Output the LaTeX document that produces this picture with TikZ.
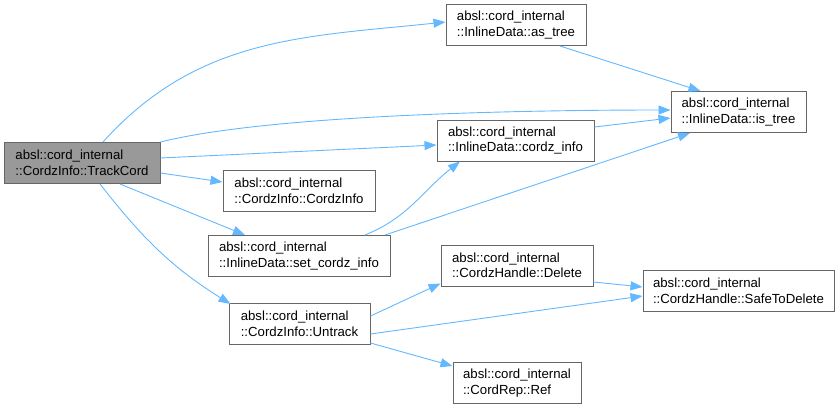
\documentclass[tikz,border=0pt]{standalone}
\usepackage{fontspec}
\setmainfont{Liberation Sans}
\usepackage{tikz}
\usetikzlibrary{arrows.meta, positioning}
\definecolor{callblue}{RGB}{99, 184, 255}
\definecolor{boxgray}{RGB}{102, 102, 102}
\definecolor{rootgray}{RGB}{153, 153, 153}

\begin{document}
\begin{tikzpicture}[x=1pt, y=-1pt,
    font=\fontsize{13.2}{15.5}\selectfont,
    >={Triangle[length=12pt, width=9pt]},
    fn/.style={draw=boxgray, line width=1pt, fill=white, align=left,
      minimum height=41pt, minimum width=#1, inner xsep=4pt, inner ysep=2pt},
    root/.style={fn=#1, fill=rootgray},
    call/.style={->, callblue, line width=0.9pt}]
  \useasboundingbox (0,0) rectangle (840,405);
  % functions
  \node[root=156pt] (tc) at (82,163) {absl::cord\_internal\\::CordzInfo::TrackCord};
  \node[fn=140pt] (at) at (516,25) {absl::cord\_internal\\::InlineData::as\_tree};
  \node[fn=135pt] (it) at (738.5,112) {absl::cord\_internal\\::InlineData::is\_tree};
  \node[fn=157pt] (cz) at (515.5,140.5) {absl::cord\_internal\\::InlineData::cordz\_info};
  \node[fn=152pt] (ci) at (299,191) {absl::cord\_internal\\::CordzInfo::CordzInfo};
  \node[fn=182pt] (sc) at (299,256) {absl::cord\_internal\\::InlineData::set\_cordz\_info};
  \node[fn=152pt] (dl) at (517,265.5) {absl::cord\_internal\\::CordzHandle::Delete};
  \node[fn=191pt] (sd) at (738.5,291) {absl::cord\_internal\\::CordzHandle::SafeToDelete};
  \node[fn=141pt] (un) at (299.5,324) {absl::cord\_internal\\::CordzInfo::Untrack};
  \node[fn=128pt] (rf) at (517,383) {absl::cord\_internal\\::CordRep::Ref};
  % calls from TrackCord
  \draw[call] ([xshift=21pt]tc.north) to[out=48, in=186] ([yshift=3pt]at.west);
  \draw[call] (tc.north east) to[out=14, in=180, looseness=0.6] ([yshift=2pt]it.west);
  \draw[call] ([yshift=5pt]tc.east) -- ([yshift=-4.5pt]cz.west);
  \draw[call] ([yshift=-10pt]tc.east) -- ([yshift=9pt]ci.west);
  \draw[call] ([xshift=38pt]tc.south) -- ([xshift=-54pt]sc.north);
  \draw[call] ([xshift=18pt]tc.south) to[out=-52, in=148] ([xshift=2pt, yshift=-1pt]un.north west);
  % the rest
  \draw[call] ([xshift=44pt]at.south) -- ([xshift=-38pt]it.north);
  \draw[call] ([yshift=13.5pt]cz.east) -- ([yshift=-6pt]it.west);
  \draw[call] ([xshift=66pt]sc.north) to[out=22, in=218] ([xshift=-55.5pt]cz.south);
  \draw[call] ([xshift=86pt]sc.north) -- ([xshift=-48.5pt]it.south);
  \draw[call] ([yshift=8pt]un.east) -- ([yshift=3pt]dl.south west);
  \draw[call] ([yshift=-10pt]un.east) -- ([yshift=-5pt]sd.west);
  \draw[call] ([yshift=2pt]un.south east) -- ([yshift=-4pt]rf.north west);
  \draw[call] ([yshift=-16.5pt]dl.east) -- ([yshift=4pt]sd.west);
\end{tikzpicture}
\end{document}
